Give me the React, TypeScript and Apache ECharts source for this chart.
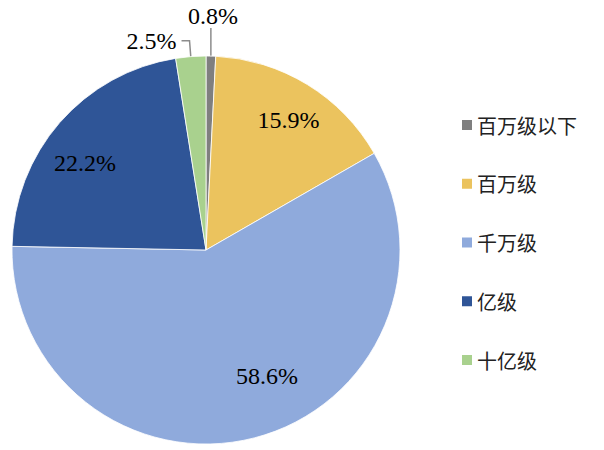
import React, { useEffect, useRef } from "react";
import * as echarts from "echarts";

const categories = ["百万级以下", "百万级", "千万级", "亿级", "十亿级"];
const values = [0.8, 15.9, 58.6, 22.2, 2.5];
const colors = ["#7F7F7F", "#EBC35E", "#8FAADC", "#2F5597", "#A9D18E"];
const insideLabelIdx = [1, 2, 3];
// small label nudges (Excel best-fit placement)
const insideLabelShift: Record<number, [number, number]> = { 1: [3, 0], 2: [23, -22], 3: [-6, 13] };

const SERIF = "Liberation Serif";

export default function App() {
  const ref = useRef<HTMLDivElement>(null);
  useEffect(() => {
    document.body.style.margin = "0";
    const chart = echarts.init(ref.current!, null, { renderer: "svg" });
    const R = 194;
    const labelFont = { fontFamily: SERIF, fontSize: 24, color: "#000" };
    chart.setOption({
      animation: false,
      backgroundColor: "#fff",
      textStyle: { fontFamily: SERIF },
      legend: {
        orient: "vertical",
        left: 457,
        top: 110,
        itemWidth: 10,
        itemHeight: 10,
        itemGap: 38.75,
        icon: "rect",
        itemStyle: { borderWidth: 0 },
        data: categories,
        textStyle: { fontFamily: "Noto Sans CJK SC", fontSize: 20, color: "#222", lineHeight: 20 },
      },
      series: [
        {
          type: "pie",
          center: [206, 250],
          radius: [0, R],
          startAngle: 90,
          clockwise: true,
          avoidLabelOverlap: false,
          itemStyle: { borderColor: "#fff", borderWidth: 0.8 },
          label: {
            show: true,
            position: "outside",
            ...labelFont,
            formatter: (p: any) => p.value.toFixed(1) + "%",
          },
          labelLine: { show: true, length: 16, length2: 8, lineStyle: { color: "#8c8c8c", width: 1.5 } },
          labelLayout: (p: any) => {
            const pts = p.labelLinePoints;
            if (!pts) return {};
            if (p.dataIndex === 0) {
              const s = pts[0];
              const top = s[1] - 28;
              return {
                x: s[0] + 2,
                y: top - 12,
                align: "center",
                verticalAlign: "middle",
                labelLinePoints: [s, [s[0], top], [s[0], top]],
              };
            }
            return {};
          },
          data: categories.map((n, i) => ({
            name: n,
            value: values[i],
            itemStyle: { color: colors[i] },
            label: { show: !insideLabelIdx.includes(i), ...labelFont },
            labelLine: { show: !insideLabelIdx.includes(i) },
          })),
        },
        {
          type: "pie",
          silent: true,
          center: [206, 250],
          radius: [R * 0.54, R],
          startAngle: 90,
          clockwise: true,
          itemStyle: { color: "transparent" },
          label: {
            show: true,
            position: "inside",
            ...labelFont,
            formatter: (p: any) => p.value.toFixed(1) + "%",
          },
          labelLine: { show: false },
          labelLayout: (p: any) => {
            const s = insideLabelShift[p.dataIndex];
            return s ? { dx: s[0], dy: s[1] } : {};
          },
          data: categories.map((n, i) => ({
            name: n,
            value: values[i],
            label: { show: insideLabelIdx.includes(i), ...labelFont },
          })),
        },
      ],
    });
    return () => chart.dispose();
  }, []);
  return <div ref={ref} style={{ position: "absolute", left: 0, top: 0, width: 604, height: 450 }} />;
}
